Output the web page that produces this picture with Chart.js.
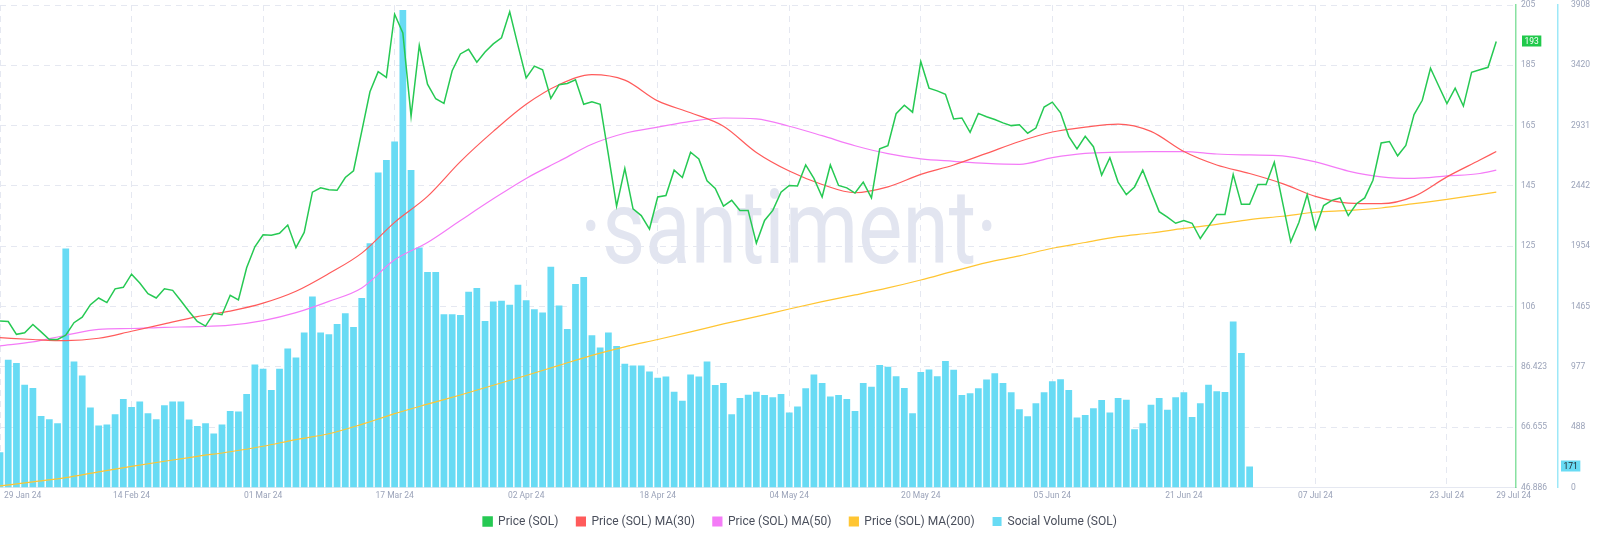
<!DOCTYPE html>
<html>
<head>
<meta charset="utf-8">
<script src="https://cdn.jsdelivr.net/npm/chart.js@4.4.1/dist/chart.umd.min.js"></script>
<style>
  html, body { margin: 0; padding: 0; background: #fff; }
</style>
</head>
<body>
<canvas id="chart" width="1600" height="541"></canvas>
<script>
// days counted from 29 Jan 24
const xTickDays = [0, 16, 32, 48, 64, 80, 96, 112, 128, 144, 160, 176, 182];
const xTickLabels = ["29 Jan 24", "14 Feb 24", "01 Mar 24", "17 Mar 24", "02 Apr 24", "18 Apr 24",
    "04 May 24", "20 May 24", "05 Jun 24", "21 Jun 24", "07 Jul 24", "23 Jul 24", "29 Jul 24"];

const priceMin = 46.886;
const priceMax = 205.034;
const priceTickLabels = ["46.886", "66.655", "86.423", "106", "125", "145", "165", "185", "205"];
const volumeMax = 3908;
const volumeTickLabels = ["0", "488", "977", "1465", "1954", "2442", "2931", "3420", "3908"];

// daily price, 29 Jan -> 29 Jul
const price = [
    101.5, 101.3, 97.1, 97.6, 100.3, 97.9, 95.4, 95.4, 96.8, 100.9,
    102.7, 106.8, 109.0, 107.5, 112.0, 112.5, 116.8, 113.9, 110.4, 109.0,
    112.0, 111.5, 108.1, 104.6, 101.3, 99.8, 104.0, 103.5, 109.9, 108.4,
    118.9, 125.8, 129.7, 129.6, 130.2, 132.9, 125.5, 130.5, 143.7, 145.1,
    144.5, 144.3, 148.5, 150.7, 163.6, 176.6, 183.2, 181.3, 202.0, 195.9,
    168.6, 191.8, 179.1, 174.3, 172.8, 183.5, 189.0, 190.5, 186.3, 189.6,
    192.3, 194.3, 202.8, 191.8, 181.1, 185.0, 183.8, 174.4, 178.9, 179.3,
    180.5, 172.5, 173.3, 172.5, 156.0, 139.1, 151.5, 138.2, 136.0, 131.6,
    142.1, 142.6, 150.9, 148.5, 156.8, 154.6, 147.4, 144.9, 139.1, 141.0,
    137.7, 137.7, 127.0, 134.4, 137.7, 143.7, 145.9, 145.7, 152.6, 148.2,
    142.1, 152.6, 145.9, 145.1, 143.4, 147.0, 141.8, 157.9, 158.9, 169.4,
    172.2, 169.9, 186.5, 177.8, 176.9, 175.8, 167.7, 168.0, 163.3, 169.5,
    168.4, 167.5, 166.4, 165.5, 165.8, 163.0, 164.7, 171.6, 173.2, 169.7,
    162.0, 157.9, 162.0, 158.6, 149.3, 155.0, 147.0, 142.9, 145.4, 150.9,
    144.0, 137.3, 135.5, 133.5, 134.4, 133.5, 128.5, 132.5, 136.4, 136.4,
    149.5, 139.7, 139.7, 146.2, 146.2, 153.5, 140.4, 127.4, 133.8, 142.9,
    131.6, 139.3, 141.0, 141.8, 136.0, 139.9, 141.8, 147.6, 159.8, 160.3,
    155.6, 159.0, 169.1, 173.8, 184.3, 178.5, 172.7, 177.8, 171.9, 183.0,
    183.8, 184.6, 193.1
];

// daily social volume, 29 Jan -> 29 Jun
const socialVolume = [
    285, 1035, 1008, 833, 806, 580, 552, 520, 1936, 1021,
    907, 648, 503, 511, 593, 716, 653, 697, 601, 552,
    667, 697, 697, 550, 498, 520, 438, 511, 620, 615,
    757, 997, 962, 790, 962, 1125, 1052, 1256, 1548, 1256,
    1242, 1324, 1412, 1300, 1535, 1979, 2552, 2653, 2803, 3867,
    2571, 1944, 1745, 1745, 1404, 1404, 1398, 1586, 1616, 1349,
    1507, 1512, 1480, 1643, 1516, 1444, 1417, 1788, 1475, 1283,
    1649, 1704, 1234, 1133, 1256, 1147, 1003, 989, 989, 940,
    888, 899, 776, 702, 915, 899, 1021, 831, 847, 593,
    724, 751, 776, 749, 730, 757, 607, 656, 804, 915,
    847, 738, 749, 716, 620, 847, 817, 992, 978, 902,
    806, 601, 935, 956, 902, 1025, 953, 749, 763, 804,
    874, 926, 847, 771, 634, 577, 683, 771, 861, 877,
    790, 566, 588, 642, 708, 607, 724, 710, 471, 520,
    670, 724, 629, 730, 771, 571, 683, 833, 779, 773,
    1344, 1090, 171
];

// moving averages, read every 4 days
const maDays = [0, 4, 8, 12, 16, 20, 24, 28, 32, 36, 40, 44, 48, 52, 56, 60, 64, 68, 72, 76,
    80, 84, 88, 92, 96, 100, 104, 108, 112, 116, 120, 124, 128, 132, 136, 140, 144, 148, 152, 156,
    160, 164, 168, 172, 176, 180, 182];
const ma30 = [96.0, 95.4, 95.0, 95.8, 98.1, 100.5, 102.9, 104.7, 107.3, 111.2,
    117.0, 123.7, 133.8, 142.3, 153.7, 163.6, 172.5, 178.9, 182.2, 180.4,
    173.6, 169.7, 165.3, 156.7, 150.6, 146.2, 143.5, 145.4, 149.5, 152.6,
    156.4, 160.3, 163.4, 165.0, 166.0, 163.6, 157.0, 152.6, 149.8, 146.5,
    142.3, 140.1, 139.9, 142.3, 148.7, 154.2, 157.0];
const ma50 = [93.3, 94.6, 96.8, 98.7, 99.0, 99.4, 99.6, 100.1, 101.6, 104.2,
    107.9, 112.3, 121.5, 127.2, 134.4, 141.5, 148.2, 153.8, 159.4, 163.0,
    165.0, 166.9, 168.0, 167.7, 165.3, 162.2, 158.9, 156.3, 154.6, 153.8,
    153.1, 152.8, 155.0, 156.4, 156.8, 157.0, 157.0, 156.2, 155.9, 155.6,
    153.6, 150.6, 148.7, 148.2, 149.0, 149.8, 150.9];
const ma200 = [47.4, 48.7, 50.1, 52.0, 53.8, 55.5, 57.1, 58.6, 60.4, 62.6,
    64.5, 67.6, 71.1, 74.2, 77.2, 80.4, 83.6, 86.9, 90.2, 93.0,
    95.4, 97.9, 100.5, 102.9, 105.4, 107.8, 110.0, 112.3, 114.9, 117.8,
    120.6, 122.8, 125.3, 127.2, 129.1, 130.3, 131.8, 133.1, 134.7, 135.8,
    137.1, 137.7, 138.5, 139.9, 141.3, 142.9, 143.7];

const green = "#26c953";
const red = "#ff5b5b";
const pink = "#f47bf7";
const orange = "#ffc532";
const cyan = "#68dbf4";
const gridColor = "#e5e8f1";
const tickColor = "#9ba3b9";
const tickFont = { size: 8.5, family: "Roboto" };

const toPoints = (xs, ys) => ys.map((v, i) => ({ x: xs ? xs[i] : i, y: v }));

// santiment watermark, drawn under the data
const watermark = {
    id: "watermark",
    beforeDatasetsDraw(chart) {
        const ctx = chart.ctx;
        const text = "\u00b7santiment\u00b7";
        ctx.save();
        ctx.font = "104px Roboto";
        const squeeze = 418 / ctx.measureText(text).width;
        ctx.translate(789, 262.5);
        ctx.scale(squeeze, 1);
        ctx.fillStyle = "#e2e5f0";
        ctx.textAlign = "center";
        ctx.textBaseline = "alphabetic";
        ctx.fillText(text, 0, 0);
        ctx.restore();
    }
};

const xLabels = {
    id: "xLabels",
    afterDraw(chart) {
        const ctx = chart.ctx;
        const sx = chart.scales.x;
        ctx.save();
        ctx.font = tickFont.size + "px " + tickFont.family;
        ctx.fillStyle = tickColor;
        ctx.textBaseline = "middle";
        xTickDays.forEach((d, i) => {
            const px = sx.getPixelForValue(d);
            const first = i === 0;
            const last = i === xTickDays.length - 1;
            ctx.textAlign = (first || last) ? "left" : "center";
            ctx.fillText(xTickLabels[i], first ? px + 4 : px, sx.top + 8.5);
        });
        ctx.restore();
    }
};

const lastValues = {
    id: "lastValues",
    afterDraw(chart) {
        const ctx = chart.ctx;
        const { y, y1 } = chart.scales;
        const badge = (text, x, yy, bg, fg) => {
            ctx.font = tickFont.size + "px " + tickFont.family;
            const w = ctx.measureText(text).width + 5;
            const top = Math.round(yy) - 5.5;
            ctx.fillStyle = bg;
            ctx.fillRect(x, top, w, 11);
            ctx.fillStyle = fg;
            ctx.textAlign = "left";
            ctx.textBaseline = "middle";
            ctx.fillText(text, x + 2.5, top + 6);
        };
        ctx.save();
        const pLast = price[price.length - 1];
        badge(String(Math.round(pLast)), y.left + 6, y.getPixelForValue(pLast), "#20c94b", "#ffffff");
        const vLast = socialVolume[socialVolume.length - 1];
        badge(String(vLast), y1.left + 3, y1.getPixelForValue(vLast), cyan, "#1e2128");
        ctx.restore();
    }
};

const lineSet = (label, data, color, width, order) => ({
    label: label,
    data: data,
    borderColor: color,
    backgroundColor: color,
    borderWidth: width,
    pointRadius: 0,
    yAxisID: "y",
    order: order
});

const priceSet = lineSet("Price (SOL)", toPoints(null, price), green, 1.5, 1);
const ma30Set = Object.assign(lineSet("Price (SOL) MA(30)", toPoints(maDays, ma30), red, 1.2, 2), { cubicInterpolationMode: "monotone" });
const ma50Set = Object.assign(lineSet("Price (SOL) MA(50)", toPoints(maDays, ma50), pink, 1.2, 3), { cubicInterpolationMode: "monotone" });
const ma200Set = Object.assign(lineSet("Price (SOL) MA(200)", toPoints(maDays, ma200), orange, 1.2, 4), { cubicInterpolationMode: "monotone" });

new Chart(document.getElementById("chart"), {
    type: "line",
    data: {
        datasets: [
            priceSet, ma30Set, ma50Set, ma200Set,
            {
                type: "bar",
                label: "Social Volume (SOL)",
                data: toPoints(null, socialVolume),
                backgroundColor: cyan,
                borderWidth: 0,
                barPercentage: 0.82,
                categoryPercentage: 1,
                yAxisID: "y1",
                order: 5
            }
        ]
    },
    options: {
        responsive: false,
        animation: false,
        devicePixelRatio: 1,
        layout: { padding: { top: 5, right: 0, bottom: 3.5, left: 0 } },
        plugins: {
            tooltip: { enabled: false },
            legend: {
                position: "bottom",
                labels: {
                    boxWidth: 9,
                    boxHeight: 9,
                    padding: 18,
                    color: "#4a4f5c",
                    font: { size: 12, family: "Roboto" }
                }
            }
        },
        scales: {
            x: {
                type: "linear",
                min: 0,
                max: 184.4,
                offset: false,
                afterBuildTicks: s => { s.ticks = xTickDays.map(v => ({ value: v })); },
                afterFit: s => { s.height = 10; s.paddingLeft = 0; s.paddingRight = 0; },
                ticks: { display: false },
                grid: {
                    offset: false,
                    drawTicks: false,
                    color: c => (c.tick && c.tick.value === 182) ? "rgba(0,0,0,0)" : gridColor
                },
                border: { display: true, color: gridColor, dash: [6, 5] }
            },
            y: {
                type: "linear",
                position: "right",
                min: priceMin,
                max: priceMax,
                afterBuildTicks: s => {
                    s.ticks = priceTickLabels.map((_, i) => ({ value: priceMin + i * (priceMax - priceMin) / 8 }));
                },
                afterFit: s => { s.width = 42; s.paddingTop = 0; s.paddingBottom = 0; },
                ticks: {
                    callback: (v, i) => priceTickLabels[i],
                    color: tickColor,
                    padding: 5,
                    font: tickFont
                },
                grid: { color: gridColor, drawTicks: false },
                border: { color: "rgba(38,201,83,0.55)", width: 1.5, dash: [6, 5] }
            },
            y1: {
                type: "linear",
                position: "right",
                min: 0,
                max: volumeMax,
                afterBuildTicks: s => {
                    s.ticks = volumeTickLabels.map((_, i) => ({ value: i * volumeMax / 8 }));
                },
                afterFit: s => { s.width = 42; s.paddingTop = 0; s.paddingBottom = 0; },
                ticks: {
                    callback: (v, i) => volumeTickLabels[i],
                    color: tickColor,
                    padding: 5,
                    font: tickFont
                },
                grid: { display: false },
                border: { color: "rgba(104,219,244,0.65)", width: 1.5 }
            }
        }
    },
    plugins: [watermark, xLabels, lastValues]
});
</script>
</body>
</html>
